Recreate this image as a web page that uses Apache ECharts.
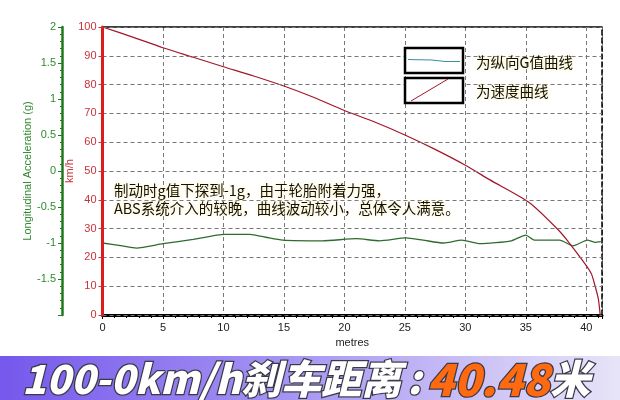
<!DOCTYPE html>
<html>
<head>
<meta charset="utf-8">
<script src="https://cdn.jsdelivr.net/npm/echarts@6/dist/echarts.min.js"></script>
<style>
	html, body { margin: 0; padding: 0; background: #fff; }
	#main { width: 620px; height: 400px; }
</style>
</head>
<body>
<div id="main"></div>
<script>
// 速度曲线（km/h）对应的距离（米）
const speedDist = [0, 2.5, 5, 7.5, 10, 12.5, 15, 17.5, 20, 22.5, 25, 27.5, 30, 32, 35.3, 37.7, 38.5, 39.5, 40.4, 40.7, 41, 41.15];
const speedVals = [100, 96.5, 92.8, 89.5, 86.2, 83, 79.5, 75.5, 71, 67, 62.5, 57.5, 52, 47, 39, 29.5, 25.5, 20, 14.5, 10.5, 5.5, 0];
// 纵向G值曲线（g）
const gDist = [0, 1.5, 2.8, 5, 7.5, 10.1, 12.2, 13.5, 14.9, 18.2, 21, 22.9, 25.1, 26.5, 28.2, 29.7, 31.2, 33.8, 35, 35.7, 37.8, 38.9, 40.1, 40.7, 41.2];
const gVals = [-1.0, -1.035, -1.07, -1.01, -0.95, -0.88, -0.88, -0.92, -0.96, -0.97, -0.94, -0.97, -0.93, -0.96, -1.0, -0.96, -1.01, -0.97, -0.89, -0.96, -0.96, -1.04, -0.96, -0.99, -0.98];
// 文字
const legendNames = ['为纵向G值曲线', '为速度曲线'];
const noteLines = ['制动时g值下探到-1g，由于轮胎附着力强，', 'ABS系统介入的较晚，曲线波动较小，总体令人满意。'];
const bannerParts = ['100-0km/h刹车距离', ':', '40.48', '米'];

const redColor = '#c8323a';
const greenColor = '#2f8a2f';
const uiFont = '"Liberation Sans", "DejaVu Sans", sans-serif';
const cjkFont = '"Noto Sans CJK SC", "Liberation Sans", sans-serif';
const glow = { textShadowColor: 'rgba(255,236,140,0.9)', textShadowBlur: 4 };

const chart = echarts.init(document.getElementById('main'));

const option = {
	animation: false,
	grid: { left: 102.5, top: 27, width: 499.5, height: 288 },
	xAxis: [
		{
			type: 'value',
			min: 0,
			max: 41.3,
			interval: 5,
			name: 'metres',
			nameLocation: 'middle',
			nameGap: 22,
			nameTextStyle: { color: '#222', fontSize: 11, fontFamily: uiFont },
			axisLine: { onZero: false, lineStyle: { color: '#000', width: 3 } },
			axisTick: { show: true, length: 4, lineStyle: { color: '#000' } },
			minorTick: { show: true, splitNumber: 5, length: 3, lineStyle: { color: '#000' } },
			axisLabel: { color: '#222', fontSize: 11, fontFamily: uiFont, margin: 7, showMaxLabel: false },
			splitLine: { show: true, lineStyle: { color: '#777', type: [4, 3], width: 1 } },
		},
		{
			// 顶部边框
			type: 'value',
			position: 'top',
			min: 0,
			max: 41.3,
			axisLine: { show: true, onZero: false, lineStyle: { color: '#000', width: 1.5 } },
			axisTick: { show: false },
			axisLabel: { show: false },
			splitLine: { show: false },
		},
	],
	yAxis: [
		{
			// 速度轴
			type: 'value',
			position: 'left',
			min: 0,
			max: 100,
			interval: 10,
			name: 'km/h',
			nameLocation: 'middle',
			nameGap: 27,
			nameMoveOverlap: false,
			nameRotate: 90,
			nameTextStyle: { color: redColor, fontSize: 11, fontFamily: uiFont },
			axisLine: { show: true, onZero: false, lineStyle: { color: '#dd1c1c', width: 3 } },
			axisTick: { show: true, length: 4, lineStyle: { color: redColor } },
			axisLabel: { color: redColor, fontSize: 11, fontFamily: uiFont, margin: 6 },
			splitLine: { show: true, lineStyle: { color: '#777', type: [4, 3], width: 1 } },
			z: 4,
		},
		{
			// 纵向加速度轴
			type: 'value',
			position: 'left',
			offset: 40.5,
			min: -2,
			max: 2,
			interval: 0.5,
			name: 'Longitudinal Acceleration (g)',
			nameLocation: 'middle',
			nameGap: 29,
			nameMoveOverlap: false,
			nameRotate: 90,
			nameTextStyle: { color: greenColor, fontSize: 11, fontFamily: uiFont },
			axisLine: { show: true, onZero: false, lineStyle: { color: '#1f7a1f', width: 2.5 } },
			axisTick: { show: true, length: 4, lineStyle: { color: '#1f7a1f' } },
			minorTick: { show: true, splitNumber: 5, length: 2, lineStyle: { color: '#1f7a1f' } },
			axisLabel: { color: greenColor, fontSize: 11, fontFamily: uiFont, margin: 6, showMinLabel: false },
			splitLine: { show: false },
		},
		{
			// 右侧虚线边框
			type: 'value',
			position: 'right',
			min: 0,
			max: 100,
			axisLine: { show: true, onZero: false, lineStyle: { color: '#000', width: 1.5, type: [5, 3] } },
			axisTick: { show: false },
			axisLabel: { show: false },
			splitLine: { show: false },
		},
	],
	series: [
		{
			type: 'line',
			xAxisIndex: 0,
			yAxisIndex: 0,
			data: speedDist.map((d, i) => [d, speedVals[i]]),
			symbol: 'none',
			smooth: 0.25,
			lineStyle: { color: '#a3162a', width: 1.2 },
			z: 3,
		},
		{
			type: 'line',
			xAxisIndex: 0,
			yAxisIndex: 1,
			data: gDist.map((d, i) => [d, gVals[i]]),
			symbol: 'none',
			smooth: 0.2,
			lineStyle: { color: '#2e6b2e', width: 1.3 },
			z: 2,
		},
	],
	graphic: [
		// 图例框
		{ type: 'rect', shape: { x: 405, y: 48, width: 58, height: 25 }, style: { fill: '#fff', stroke: '#000', lineWidth: 2.5 }, z: 10 },
		{ type: 'polyline', shape: { points: [[408, 59.5], [432, 60], [445, 61.5], [460, 61.5]] }, style: { stroke: '#3a8fa0', lineWidth: 1.2, fill: null }, z: 11 },
		{ type: 'rect', shape: { x: 405, y: 78, width: 58, height: 25 }, style: { fill: '#fff', stroke: '#000', lineWidth: 2.5 }, z: 10 },
		{ type: 'line', shape: { x1: 411, y1: 101, x2: 448, y2: 79 }, style: { stroke: '#a3162a', lineWidth: 1 }, z: 11 },
		{
			type: 'text', x: 476, y: 62, z: 11,
			style: Object.assign({ text: legendNames[0], fill: '#111', font: '14.5px ' + cjkFont, verticalAlign: 'middle' }, glow),
		},
		{
			type: 'text', x: 476, y: 91, z: 11,
			style: Object.assign({ text: legendNames[1], fill: '#111', font: '14.5px ' + cjkFont, verticalAlign: 'middle' }, glow),
		},
		// 说明文字
		{
			type: 'text', x: 114, y: 182, z: 11,
			style: Object.assign({
				text: noteLines.join('\n'),
				fill: '#111',
				font: '14.5px ' + cjkFont,
				lineHeight: 17.6,
			}, glow),
		},
		// 底部横幅
		{
			type: 'rect', z: 5,
			shape: { x: 0, y: 356, width: 620, height: 44 },
			style: {
				fill: new echarts.graphic.LinearGradient(0, 0, 1, 0, [
					{ offset: 0, color: '#7558ec' },
					{ offset: 0.45, color: '#a492f2' },
					{ offset: 0.8, color: '#cfc6f6' },
					{ offset: 1, color: '#e8e4f8' },
				]),
			},
		},
		{
			type: 'text', x: 22, y: 379, z: 12,
			style: {
				text: '{a|' + bannerParts[0] + '}{c|' + bannerParts[1] + '}{b|' + bannerParts[2] + '}{a|' + bannerParts[3] + '}',
				verticalAlign: 'middle',
				rich: {
					a: { fontSize: 40, fontWeight: 900, fontStyle: 'italic', fontFamily: cjkFont, fill: '#fff', stroke: '#3a3a4a', lineWidth: 2.5 },
					c: { fontSize: 40, fontWeight: 900, fontStyle: 'italic', fontFamily: cjkFont, fill: '#fff', stroke: '#3a3a4a', lineWidth: 2.5, padding: [0, 6, 0, 6] },
					b: { fontSize: 44, fontWeight: 900, fontStyle: 'italic', fontFamily: cjkFont, fill: '#ff6a10', stroke: '#3a3a4a', lineWidth: 2.5 },
				},
			},
		},
	],
};

chart.setOption(option);
</script>
</body>
</html>
